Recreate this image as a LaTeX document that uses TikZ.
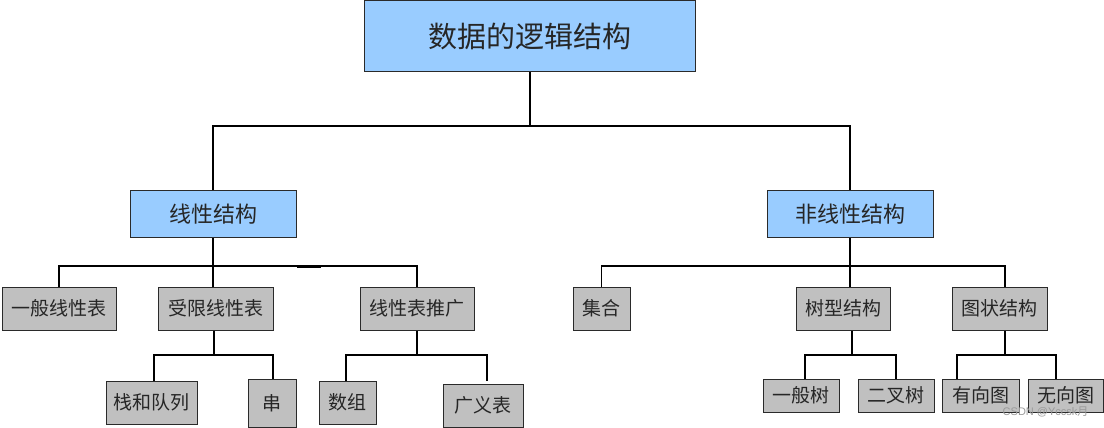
\documentclass[tikz,border=0pt]{standalone}
\usepackage{fontspec}
\setmainfont{Noto Sans CJK SC}
\newfontfamily\wmfont{Liberation Sans}
\definecolor{lblue}{HTML}{99CCFF}
\definecolor{lgray}{HTML}{C0C0C0}
\definecolor{bord}{HTML}{2A2A2A}
\begin{document}
\begin{tikzpicture}[x=1pt,y=-1pt,
  base/.style={draw=bord,line width=1pt,inner sep=0pt,anchor=center,text=black!85},
  bluebox/.style={base,fill=lblue},
  graybox/.style={base,fill=lgray,font=\fontsize{19}{22}\selectfont},
  conn/.style={draw=black,line width=1.8pt}]
\useasboundingbox (0,0) rectangle (1104,428);
\fill[white] (0,0) rectangle (1104,428);
% level 0
\node[bluebox,minimum width=331pt,minimum height=71pt,font=\fontsize{29}{34}\selectfont] (root) at (530,36.5) {数据的逻辑结构};
% level 1
\node[bluebox,minimum width=166pt,minimum height=47pt,font=\fontsize{22}{26}\selectfont] (lin) at (213,214) {线性结构};
\node[bluebox,minimum width=166pt,minimum height=47pt,font=\fontsize{22}{26}\selectfont] (non) at (850,214) {非线性结构};
% level 2
\node[graybox,minimum width=114pt,minimum height=43pt] (gen) at (59,308.5) {一般线性表};
\node[graybox,minimum width=115pt,minimum height=43pt] (res) at (216,308.5) {受限线性表};
\node[graybox,minimum width=114pt,minimum height=43pt] (ext) at (417,308.5) {线性表推广};
\node[graybox,minimum width=57pt,minimum height=43pt] (set) at (601.5,308.5) {集合};
\node[graybox,minimum width=94pt,minimum height=43pt] (tree) at (843,308.5) {树型结构};
\node[graybox,minimum width=95pt,minimum height=43pt] (graph) at (999.5,308.5) {图状结构};
% level 3
\node[graybox,minimum width=91pt,minimum height=43pt] (sq) at (151.5,402.5) {栈和队列};
\node[graybox,minimum width=48pt,minimum height=48pt] (str) at (272,403) {串};
\node[graybox,minimum width=57pt,minimum height=43pt] (arr) at (347.5,402.5) {数组};
\node[graybox,minimum width=80pt,minimum height=43pt] (gl) at (483,405.5) {广义表};
\node[graybox,minimum width=76pt,minimum height=33pt] (gt) at (801,395.5) {一般树};
\node[graybox,minimum width=76pt,minimum height=33pt] (bt) at (896,395.5) {二叉树};
\node[graybox,minimum width=77pt,minimum height=33pt] (dg) at (980.5,395.5) {有向图};
\node[graybox,minimum width=75pt,minimum height=33pt] (ug) at (1065.5,395.5) {无向图};
% bus coordinates
\coordinate (b0) at (530,126);
\coordinate (b1) at (213,266);
\coordinate (b2) at (850,266);
\coordinate (b3) at (214,355);
\coordinate (b4) at (417,355);
\coordinate (b5) at (852,355);
\coordinate (b6) at (1005,355);
% connectors level 0-1
\draw[conn] (root.south) -- (b0);
\draw[conn] (lin.north) |- (b0) -| (non.north);
% linear level 1-2
\draw[conn] (lin.south) -- (b1);
\draw[conn] (gen.north) |- (b1);
\draw[conn] (b1) -| (ext.north);
\draw[conn] (b1) -- (b1 |- res.north);
\draw[line width=3pt] (297,266) -- (321,266);
% nonlinear level 1-2
\draw[conn] (non.south) -- (b2);
\draw[conn] (set.north) |- (b2) -| (1005,287);
\draw[conn] (b2) -- (b2 |- tree.north);
% level 2-3 left
\draw[conn] (res.south -| b3) -- (b3);
\draw[conn] (154,381) |- (b3) -| (273,379);
\draw[conn] (ext.south) -- (b4);
\draw[conn] (346,381) |- (b4) -| (487,381);
% level 2-3 right
\draw[conn] (tree.south -| b5) -- (b5);
\draw[conn] (805,379) |- (b5) -| (896,379);
\draw[conn] (graph.south -| b6) -- (b6);
\draw[conn] (957,379) |- (b6) -| (1056,379);
% watermark
\node[text=black!40,font=\wmfont\fontsize{11}{12}\selectfont,anchor=east] (wm) at (1092,412) {CSDN @Yccsk{\fontspec{Noto Sans CJK SC}月}};
\end{tikzpicture}
\end{document}
